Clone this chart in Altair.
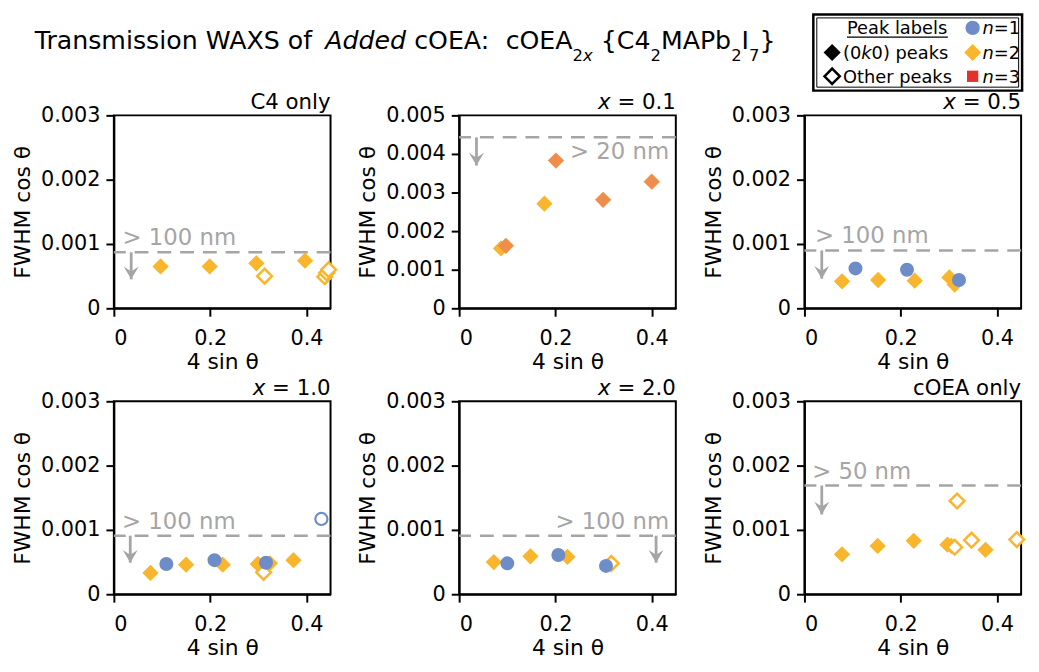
import altair as alt
import pandas as pd

FONT = "DejaVu Sans"
W, H = 219, 195
YELLOW = "#F9B52B"
ORANGE = "#F08D4B"
BLUE = "#6E8CC8"
RED = "#E5312B"
GRAY = "#A5A5A5"

N_DOM = ["n=1", "n=2", "n=3", "n=2,3"]
N_COL = [BLUE, YELLOW, RED, ORANGE]

# ---------------- data ----------------
# C4 only
c4_q = [0.097, 0.199, 0.296, 0.397, 0.313, 0.438, 0.442, 0.446]
c4_w = [0.00065, 0.00065, 0.00070, 0.00074, 0.00050, 0.00049, 0.00055, 0.00060]
c4_n = ["n=2"] * 8
c4_pk = ["0k0"] * 4 + ["other"] * 4

# x = 0.1
x01_q = [0.087, 0.097, 0.177, 0.201, 0.299, 0.400]
x01_w = [0.00155, 0.00162, 0.00271, 0.00383, 0.00281, 0.00328]
x01_n = ["n=2", "n=2,3", "n=2", "n=2,3", "n=2,3", "n=2,3"]
x01_pk = ["0k0"] * 6

# x = 0.5
x05_q = [0.078, 0.153, 0.229, 0.301, 0.312, 0.106, 0.213, 0.321]
x05_w = [0.00042, 0.00044, 0.00043, 0.00048, 0.00037, 0.00062, 0.00060, 0.00044]
x05_n = ["n=2"] * 5 + ["n=1"] * 3
x05_pk = ["0k0"] * 8

# x = 1.0
x10_q = [0.076, 0.150, 0.226, 0.299, 0.324, 0.373, 0.311, 0.109, 0.209, 0.316, 0.431]
x10_w = [0.00033, 0.00046, 0.00046, 0.00047, 0.00048, 0.00053, 0.00034,
         0.00047, 0.00053, 0.00049, 0.00117]
x10_n = ["n=2"] * 7 + ["n=1"] * 4
x10_pk = ["0k0"] * 6 + ["other"] + ["0k0"] * 3 + ["other"]

# x = 2.0
x20_q = [0.072, 0.148, 0.225, 0.316, 0.100, 0.206, 0.305]
x20_w = [0.00050, 0.00059, 0.00058, 0.00048, 0.00048, 0.00061, 0.00044]
x20_n = ["n=2"] * 4 + ["n=1"] * 3
x20_pk = ["0k0"] * 3 + ["other"] + ["0k0"] * 3

# cOEA only
co_q = [0.078, 0.152, 0.227, 0.297, 0.305, 0.376, 0.317, 0.312, 0.347, 0.441]
co_w = [0.00062, 0.00075, 0.00083, 0.00077, 0.00075, 0.00069, 0.00145, 0.00073, 0.00084, 0.00085]
co_n = ["n=2"] * 10
co_pk = ["0k0"] * 6 + ["other"] * 4

# reference lines (size limits), arrow ends, labels
ref_w = [0.00087, 0.00443, 0.00090, 0.00091, 0.00091, 0.00169]
arrow_q = [0.036, 0.036, 0.036, 0.034, 0.409, 0.036]
arrow_end = [0.00045, 0.00370, 0.00046, 0.00049, 0.00049, 0.00124]
ref_lab = ["> 100 nm", "> 20 nm", "> 100 nm", "> 100 nm", "> 100 nm", "> 50 nm"]
ref_lab_q = [0.018, 0.436, 0.022, 0.017, 0.436, 0.016]

Y3 = [0, 0.001, 0.002, 0.003]
Y5 = [0, 0.001, 0.002, 0.003, 0.004, 0.005]
X_TICKS = [0, 0.2, 0.4]

# ---------------- helpers ----------------
W_EM = {" ": 0.318, "(": 0.390, ")": 0.390, ".": 0.318, ":": 0.337, "=": 0.838, ">": 0.838,
        "{": 0.636, "}": 0.636, "A": 0.684, "C": 0.698, "E": 0.632, "I": 0.295, "M": 0.863,
        "O": 0.787, "P": 0.603, "S": 0.635, "T": 0.611, "W": 0.989, "X": 0.685, "a": 0.613,
        "b": 0.635, "c": 0.550, "d": 0.635, "e": 0.615, "f": 0.352, "h": 0.634, "i": 0.278,
        "k": 0.579, "l": 0.278, "m": 0.974, "n": 0.634, "o": 0.612, "p": 0.635, "r": 0.411,
        "s": 0.521, "t": 0.392, "x": 0.592, "y": 0.592}
for d in "0123456789":
    W_EM[d] = 0.636


def tw(s, fs):
    return sum(W_EM.get(ch, 0.6) for ch in s) * fs


def dummy():
    return pd.DataFrame({"d": [0]})


def txt(s, x, y, fs, italic=False, color="black", align="left"):
    return alt.Chart(dummy()).mark_text(
        text=s, font=FONT, fontSize=fs, fontStyle="italic" if italic else "normal",
        align=align, baseline="alphabetic", color=color
    ).encode(x=alt.value(x), y=alt.value(y))


def rich(pieces, x0, y, fs, align="left", color="black", sub_scale=0.65, sub_drop=0.47):
    sizes = [fs * sub_scale if sub else fs for _, _, sub in pieces]
    widths = [tw(t, f) for (t, _, _), f in zip(pieces, sizes)]
    x = x0 - sum(widths) if align == "right" else x0
    out = []
    for (t, it, sub), f, wd in zip(pieces, sizes, widths):
        lead = len(t) - len(t.lstrip(" "))
        s = t.strip(" ")
        if s:
            out.append(txt(s, x + lead * W_EM[" "] * f, y + (sub_drop * fs if sub else 0), f, it, color))
        x += wd
    return out


def panel(q, w, n, pk, ymax, yticks, idx, title_layers, extra=()):
    df = pd.DataFrame({"q": q, "w": w, "n": n, "peak": pk})
    X = alt.X("q:Q", scale=alt.Scale(domain=[0, 0.45], nice=False, zero=False),
              axis=alt.Axis(values=X_TICKS, format="~g", title="4 sin θ",
                            labelPadding=12, titlePadding=3, labelOverlap=False))
    Y = alt.Y("w:Q", scale=alt.Scale(domain=[0, ymax], nice=False, zero=False),
              axis=alt.Axis(values=yticks, title="FWHM cos θ", labelPadding=6, titlePadding=6,
                            labelOverlap=False,
                            labelExpr="datum.value == 0 ? '0' : format(datum.value, '.3f')"))
    col = alt.Color("n:N", scale=alt.Scale(domain=N_DOM, range=N_COL), legend=None)
    base = alt.Chart(df)

    ref_df = pd.DataFrame({"w": [ref_w[idx]]})
    refline = alt.Chart(ref_df).mark_rule(color=GRAY, strokeWidth=2.5, strokeDash=[14, 9]).encode(y=Y)

    arr_df = pd.DataFrame({"q": [arrow_q[idx]], "w": [ref_w[idx]], "w2": [arrow_end[idx]]})
    stem = alt.Chart(arr_df).mark_rule(color=GRAY, strokeWidth=2.8).encode(x=X, y=Y, y2="w2:Q")
    tip_df = pd.DataFrame({"q": [arrow_q[idx]], "w": [arrow_end[idx]]})
    head = alt.Chart(tip_df).mark_point(
        shape="M0,0L-1,-1.7L0,-1.05L1,-1.7Z", filled=True, color=GRAY, size=230, opacity=1
    ).encode(x=X, y=Y)

    below = ref_lab[idx] == "> 20 nm"
    lab_df = pd.DataFrame({"q": [ref_lab_q[idx]], "w": [ref_w[idx]], "t": [ref_lab[idx]]})
    lab = alt.Chart(lab_df).mark_text(
        font=FONT, fontSize=23, color=GRAY, baseline="alphabetic",
        align="right" if ref_lab_q[idx] > 0.3 else "left", dy=22 if below else -7
    ).encode(x=X, y=Y, text="t:N")

    fd = base.mark_point(shape="diamond", filled=True, size=270, opacity=1).encode(
        x=X, y=Y, color=col).transform_filter("datum.peak == '0k0' && datum.n != 'n=1'")
    od = base.mark_point(shape="diamond", filled=False, fill="white", strokeWidth=2.5,
                         size=220, opacity=1).encode(
        x=X, y=Y, color=col).transform_filter("datum.peak == 'other' && datum.n != 'n=1'")
    fc = base.mark_point(shape="circle", filled=True, size=200, opacity=1).encode(
        x=X, y=Y, color=col).transform_filter("datum.peak == '0k0' && datum.n == 'n=1'")
    oc = base.mark_point(shape="circle", filled=False, fill="white", strokeWidth=2.2,
                         size=150, opacity=1).encode(
        x=X, y=Y, color=col).transform_filter("datum.peak == 'other' && datum.n == 'n=1'")

    layers = [refline, stem, head, lab, fd, od, fc, oc] + list(title_layers) + list(extra)
    return alt.layer(*layers).properties(width=W, height=H)


TY = -6
TFS = 21.5


def xtitle(val):
    return rich([("x", True, False), (" = " + val, False, False)], W, TY, TFS, align="right")


# main title (placed relative to the first panel)
main_title = rich([
    ("Transmission WAXS of ", False, False),
    ("Added", True, False),
    (" cOEA:", False, False),
    ("  cOEA", False, False),
    ("2", False, True),
    ("x", True, True),
    (" {C4", False, False),
    ("2", False, True),
    ("MAPb", False, False),
    ("2", False, True),
    ("I", False, False),
    ("7", False, True),
    ("}", False, False),
], -80, -67, 25.5)

# legend (placed relative to the third panel)
LT, LB = -102, -25
r1, r2, r3 = -88.5, -63.5, -39.5
LFS = 18
legend = [
    alt.Chart(dummy()).mark_rect(fill="white", stroke="black", strokeWidth=2.5).encode(
        x=alt.value(9), x2=alt.value(W + 1), y=alt.value(LT), y2=alt.value(LB)),
    alt.Chart(dummy()).mark_rect(fill="white", stroke="black", strokeWidth=1).encode(
        x=alt.value(12.5), x2=alt.value(W - 2.5), y=alt.value(LT + 3.5), y2=alt.value(LB - 3.5)),
    txt("Peak labels", 43, r1 + 6.5, LFS),
    alt.Chart(dummy()).mark_rule(color="black", strokeWidth=1.2).encode(
        x=alt.value(43), x2=alt.value(43 + tw("Peak labels", LFS)), y=alt.value(r1 + 9.5)),
    alt.Chart(dummy()).mark_point(shape="diamond", filled=True, color="black", size=300,
                                  opacity=1).encode(x=alt.value(28), y=alt.value(r2)),
    alt.Chart(dummy()).mark_point(shape="diamond", filled=False, fill="white", color="black",
                                  strokeWidth=2.5, size=240, opacity=1).encode(
        x=alt.value(28), y=alt.value(r3)),
    txt("Other peaks", 39, r3 + 6.5, LFS),
    alt.Chart(dummy()).mark_point(shape="circle", filled=True, color=BLUE, size=210,
                                  opacity=1).encode(x=alt.value(170), y=alt.value(r1)),
    alt.Chart(dummy()).mark_point(shape="diamond", filled=True, color=YELLOW, size=290,
                                  opacity=1).encode(x=alt.value(170), y=alt.value(r2)),
    alt.Chart(dummy()).mark_point(shape="square", filled=True, color=RED, size=130,
                                  opacity=1).encode(x=alt.value(170), y=alt.value(r3)),
] + rich([("(0", False, False), ("k", True, False), ("0) peaks", False, False)], 39, r2 + 6.5, LFS) \
  + rich([("n", True, False), ("=1", False, False)], 180, r1 + 6.5, LFS) \
  + rich([("n", True, False), ("=2", False, False)], 180, r2 + 6.5, LFS) \
  + rich([("n", True, False), ("=3", False, False)], 180, r3 + 6.5, LFS)

p1 = panel(c4_q, c4_w, c4_n, c4_pk, 0.003, Y3, 0,
           [txt("C4 only", W, TY, TFS, align="right")] + main_title)
p2 = panel(x01_q, x01_w, x01_n, x01_pk, 0.005, Y5, 1, xtitle("0.1"))
p3 = panel(x05_q, x05_w, x05_n, x05_pk, 0.003, Y3, 2, xtitle("0.5"), legend)
p4 = panel(x10_q, x10_w, x10_n, x10_pk, 0.003, Y3, 3, xtitle("1.0"))
p5 = panel(x20_q, x20_w, x20_n, x20_pk, 0.003, Y3, 4, xtitle("2.0"))
p6 = panel(co_q, co_w, co_n, co_pk, 0.003, Y3, 5,
           [txt("cOEA only", W, TY, TFS, align="right")])

chart = alt.concat(
    p1, p2, p3, p4, p5, p6, columns=3,
    spacing={"row": 94, "column": 130}, bounds="flush",
    padding={"left": 2, "top": 0, "right": 0, "bottom": 0},
).configure_axis(
    labelFont=FONT, titleFont=FONT, labelFontSize=21, titleFontSize=22,
    titleFontWeight="normal", labelColor="black", titleColor="black",
    domainColor="black", domainWidth=2, tickColor="black", tickWidth=2, tickSize=8,
    grid=False,
).configure_view(stroke="black", strokeWidth=2)

chart.save("out.html", embed_options={"renderer": "svg", "actions": False})
